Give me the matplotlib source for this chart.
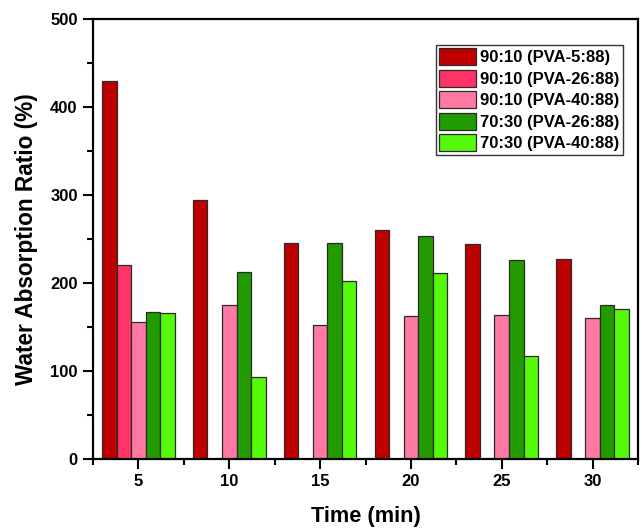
import numpy as np
import matplotlib
matplotlib.use("Agg")
import matplotlib.pyplot as plt
from matplotlib.ticker import MultipleLocator

plt.rcParams['font.family'] = ['Liberation Sans', 'DejaVu Sans']
plt.rcParams['font.weight'] = 'bold'

times = [5, 10, 15, 20, 25, 30]
labels = ["90:10 (PVA-5:88)", "90:10 (PVA-26:88)", "90:10 (PVA-40:88)",
          "70:30 (PVA-26:88)", "70:30 (PVA-40:88)"]
pva5_9010 = [429, 294, 246, 260, 244, 227]
pva26_9010 = [221, np.nan, np.nan, np.nan, np.nan, np.nan]
pva40_9010 = [156, 175, 152, 163, 164, 160]
pva26_7030 = [167, 213, 245, 253, 226, 175]
pva40_7030 = [166, 93, 202, 211, 117, 171]
series = [pva5_9010, pva26_9010, pva40_9010, pva26_7030, pva40_7030]
colors = ["#BE0000", "#FF3366", "#FF7AA2", "#229B00", "#55FA0A"]

fig = plt.figure(figsize=(6.42, 5.30), dpi=100)
ax = fig.add_axes([93/642, 71/530, 545/642, 440/530])

w = 0.8
x = np.array(times, dtype=float)
for i, (vals, c, lab) in enumerate(zip(series, colors, labels)):
    ax.bar(x + (i - 2) * w, vals, width=w, color=c, edgecolor="#2a2a2a",
           linewidth=0.9, label=lab)

ax.set_xlim(2.5, 32.5)
ax.set_ylim(0, 500)
ax.set_xticks(times)
ax.xaxis.set_minor_locator(MultipleLocator(2.5))
ax.yaxis.set_major_locator(MultipleLocator(100))
ax.yaxis.set_minor_locator(MultipleLocator(50))
ax.tick_params(which='major', direction='out', length=7, width=1.5, labelsize=12, pad=4)
ax.tick_params(which='minor', direction='out', length=4, width=1.5)
for lab in ax.get_xticklabels() + ax.get_yticklabels():
    lab.set_fontweight('bold')
for s in ax.spines.values():
    s.set_linewidth(1.6)

ax.set_xlabel("Time (min)", fontsize=15.7, fontweight='bold', labelpad=12)
ax.set_ylabel("Water Absorption Ratio (%)", fontsize=16.3, fontweight='bold', labelpad=9)

leg = ax.legend(loc='upper right', bbox_to_anchor=(0.9725, 0.941), borderaxespad=0,
                prop={'weight': 'bold', 'size': 12}, fancybox=False,
                edgecolor='#333333', framealpha=1, handlelength=2.2, handleheight=1.2,
                labelspacing=0.26, handletextpad=0.25, borderpad=0.2)
leg.get_frame().set_linewidth(1.0)

fig.savefig("out.png", dpi=100)
